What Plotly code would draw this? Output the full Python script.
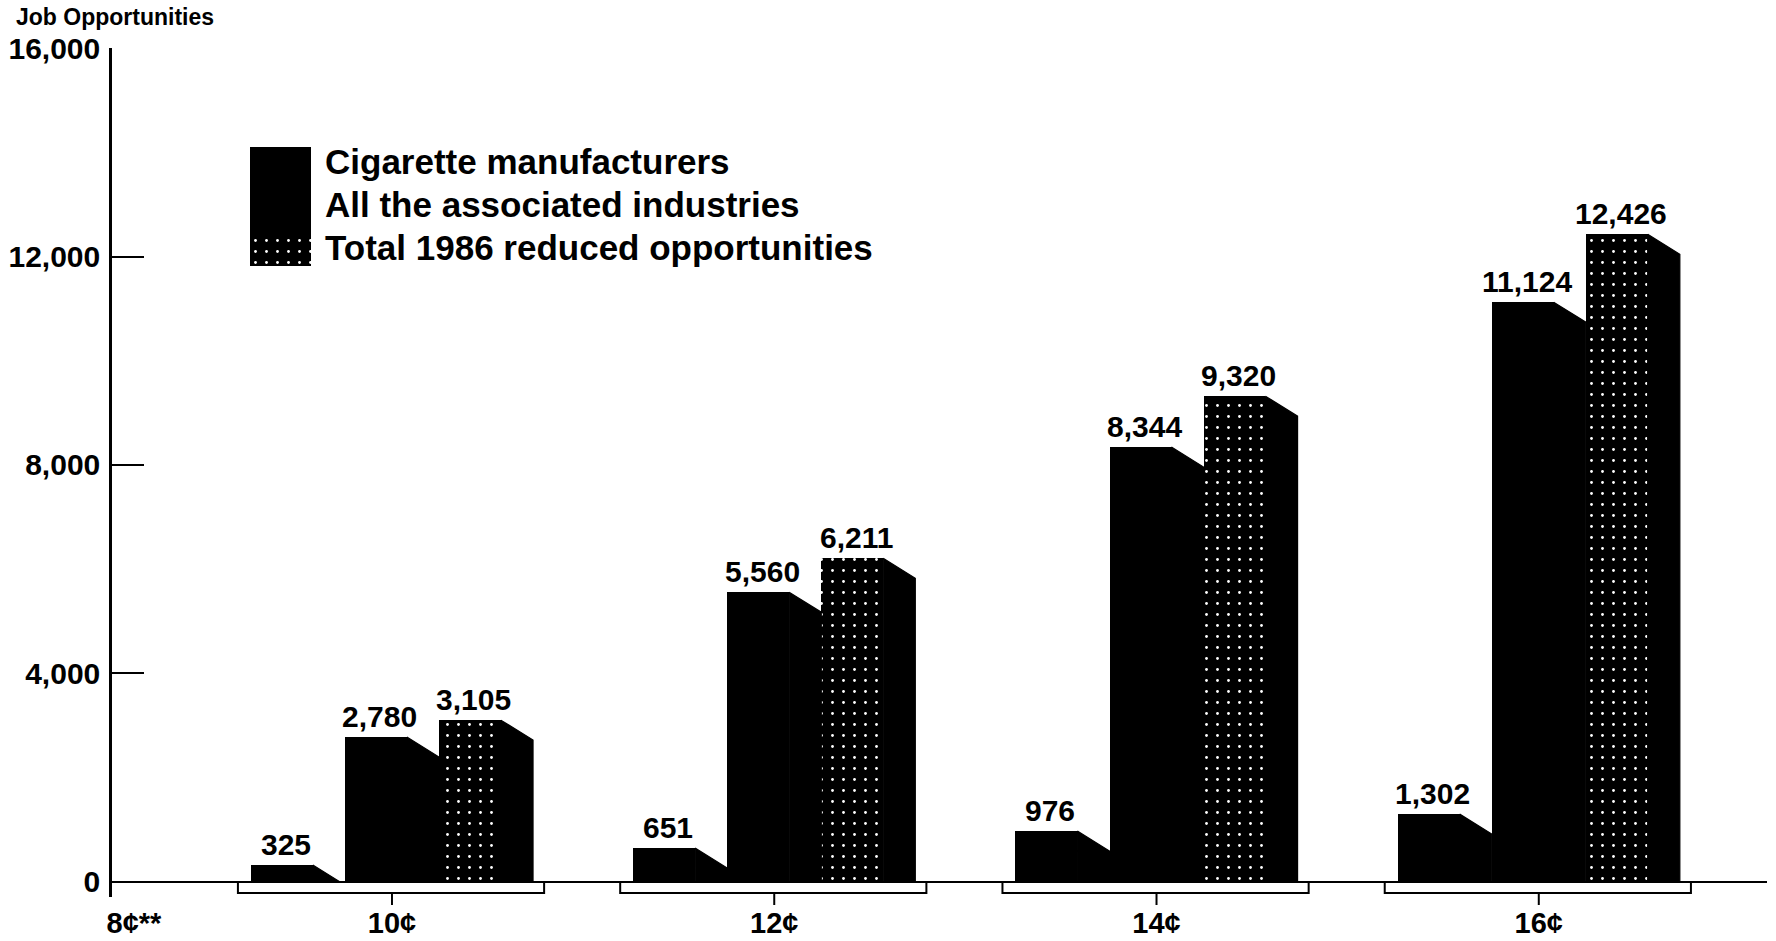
import plotly.graph_objects as go

# ---- data -------------------------------------------------------------
price_labels = ["10¢", "12¢", "14¢", "16¢"]
origin_label = "8¢**"
manufacturers = [325, 651, 976, 1302]
associated_industries = [2780, 5560, 8344, 11124]
total_reduced = [3105, 6211, 9320, 12426]
series_names = [
    "Cigarette manufacturers",
    "All the associated industries",
    "Total 1986 reduced opportunities",
]
y_tick_values = [0, 4000, 8000, 12000, 16000]

# ---- geometry / style --------------------------------------------------
W, H = 1776, 941
M_L, M_R, M_T, M_B = 112, 9, 48, 44
PLOT_H = H - M_T - M_B
FONT = "Liberation Sans"
INK = "black"

group_pos = [1, 2, 3, 4]
X_RANGE = [0.2676, 4.597]
ORIGIN_X = 0.325
Y_RANGE = [-288, 16000]

UNIT = 0.246          # one bar slot (front face + receding side)
FRONT = 0.162         # width of the front face
SIDE = UNIT - FRONT   # width of the receding side face
DROP = 383            # how far the top edge of the side face falls


def paper_y(px):
    """Vertical pixel position -> paper coordinate."""
    return (H - M_B - px) / PLOT_H


speckle = dict(shape=".", fgcolor="white", bgcolor=INK, size=11,
               solidity=0.05, fillmode="replace")

fig = go.Figure()

series = [manufacturers, associated_industries, total_reduced]
for k, (name, vals) in enumerate(zip(series_names, series)):
    fronts = [g + (k - 1.5) * UNIT + FRONT / 2 for g in group_pos]
    marker = dict(color=INK, line=dict(width=0))
    if k == 2:
        marker["pattern"] = speckle
    fig.add_trace(go.Bar(x=fronts, y=vals, width=FRONT, marker=marker,
                         name=name, showlegend=False, hoverinfo="x+y"))

    # side faces with a sloping top, clipped at the baseline
    sx, sy = [], []
    for xc, v in zip(fronts, vals):
        xr = xc + FRONT / 2
        if v > DROP:
            pts = [(xr, v), (xr + SIDE, v - DROP), (xr + SIDE, 0), (xr, 0), (xr, v)]
        else:
            pts = [(xr, v), (xr + SIDE * v / DROP, 0), (xr, 0), (xr, v)]
        sx += [p[0] for p in pts] + [None]
        sy += [p[1] for p in pts] + [None]
    fig.add_trace(go.Scatter(x=sx, y=sy, mode="lines", fill="toself",
                             fillcolor=INK, line=dict(width=1.2, color=INK),
                             showlegend=False, hoverinfo="skip"))

    # value labels above each front face
    for xc, v in zip(fronts, vals):
        fig.add_annotation(x=xc + 0.01, y=v, text=f"{v:,}", showarrow=False,
                           yanchor="bottom", yshift=2,
                           font=dict(family=FONT, size=30, color=INK, weight="bold"))

# ---- legend block ------------------------------------------------------
sw_x = [(250 - M_L) / (W - M_L - M_R), (311 - M_L) / (W - M_L - M_R)]
sw_y = [paper_y(266), paper_y(147)]
fig.add_trace(go.Bar(x=[0], y=[0.28], width=1, xaxis="x2", yaxis="y2",
                     marker=dict(color=INK, pattern=speckle, line=dict(width=0)),
                     showlegend=False, hoverinfo="skip"))
fig.add_trace(go.Bar(x=[0], y=[0.72], base=[0.28], width=1, xaxis="x2", yaxis="y2",
                     marker=dict(color=INK, line=dict(width=0)),
                     showlegend=False, hoverinfo="skip"))
legend_x = (323 - M_L) / (W - M_L - M_R)
for name, py in zip(series_names, [162, 205, 247]):
    fig.add_annotation(xref="paper", yref="paper", x=legend_x, y=paper_y(py),
                       xanchor="left", yanchor="middle", text=name, showarrow=False,
                       font=dict(family=FONT, size=35, color=INK, weight="bold"))

# ---- axis title --------------------------------------------------------
fig.add_annotation(xref="paper", yref="paper", x=(14 - M_L) / (W - M_L - M_R),
                   y=paper_y(2), xanchor="left", yanchor="top",
                   text="Job Opportunities", showarrow=False,
                   font=dict(family=FONT, size=23, color=INK, weight="bold"))

# ---- group brackets under the baseline ----------------------------------
shapes = []
for g in group_pos:
    shapes.append(dict(type="rect", xref="x", yref="y", x0=g - 0.403, x1=g + 0.398,
                       y0=0, y1=-210, line=dict(color=INK, width=2),
                       fillcolor="white", layer="above"))
    shapes.append(dict(type="line", xref="x", yref="paper", x0=g, x1=g,
                       y0=paper_y(893), y1=paper_y(905),
                       line=dict(color=INK, width=2)))
fig.update_layout(shapes=shapes)

fig.update_layout(
    width=W, height=H,
    margin=dict(l=M_L, r=M_R, t=M_T, b=M_B, autoexpand=False),
    paper_bgcolor="white", plot_bgcolor="white",
    barmode="overlay", bargap=0,
    showlegend=False,
    xaxis=dict(range=X_RANGE, showgrid=False, zeroline=False, showline=False,
               ticks="", tickvals=[ORIGIN_X] + group_pos,
               ticktext=[origin_label] + price_labels,
               tickfont=dict(family=FONT, size=29, color=INK, weight="bold"),
               ticklabelstandoff=6, automargin=False, fixedrange=True),
    yaxis=dict(range=Y_RANGE, tickvals=y_tick_values, tickformat=",",
               showgrid=False, showline=True, linecolor=INK, linewidth=2.5,
               ticks="inside", ticklen=32, tickwidth=2, tickcolor=INK,
               zeroline=True, zerolinecolor=INK, zerolinewidth=2,
               tickfont=dict(family=FONT, size=30, color=INK, weight="bold"),
               ticklabelstandoff=3, automargin=False, fixedrange=True),
    xaxis2=dict(domain=sw_x, range=[-0.5, 0.5], visible=False, anchor="y2",
                fixedrange=True),
    yaxis2=dict(domain=sw_y, range=[0, 1], visible=False, anchor="x2",
                fixedrange=True),
)

fig.write_html("out.html")
